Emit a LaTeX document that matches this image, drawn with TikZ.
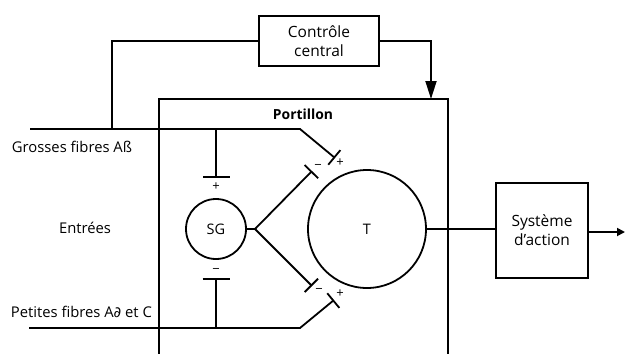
\documentclass[tikz,border=0pt]{standalone}
\usepackage{fontspec}
\setmainfont{Open Sans}
\newfontfamily\dejavu{DejaVu Sans}
\usetikzlibrary{arrows.meta}
\begin{document}
\begin{tikzpicture}[x=1pt,y=-1pt,line width=1.8pt,
  boxnode/.style={draw,line width=1.8pt,inner sep=0pt,align=center,font=\fontsize{15.5}{19}\selectfont},
  cellnode/.style={draw,circle,line width=1.8pt,inner sep=0pt,font=\fontsize{14.5}{17}\selectfont},
  lbl/.style={inner sep=0pt,font=\fontsize{14.8}{17}\selectfont},
  sign/.style={inner sep=0pt,font=\fontsize{13}{15}\selectfont},
  inhib/.style={-{Bar[width=#1]}},
  bigarrow/.style={-{Triangle[length=18pt,width=11pt]}},
  smallarrow/.style={-{Triangle[length=8pt,width=8pt]}}]
\useasboundingbox (0,0) rectangle (625,354);
% nodes
\node[boxnode,minimum width=120pt,minimum height=50pt] (ctrl) at (319,41) {Contrôle\\central};
\node[boxnode,minimum width=92pt,minimum height=95pt] (sys) at (542,230.5) {Système\\d’action};
\node[cellnode,minimum size=60pt] (SG) at (216,229) {SG};
\node[cellnode,minimum size=118pt] (T) at (367,229) {T};
\node[inner sep=0pt,font=\bfseries\fontsize{13.9}{16}\selectfont] (port) at (303,114) {Portillon};
\node[lbl,anchor=west] (gros) at (11,147) {Grosses fibres Aß};
\node[lbl] (entr) at (85,228) {Entrées};
\node[lbl,anchor=west] (pet) at (10,312) {Petites fibres A{\dejavu ∂} et C};
% signs
\node[sign] (s1) at (216,187) {+};
\node[sign] (s2) at (216,271) {−};
\node[sign] (s3) at (318,167) {−};
\node[sign] (s4) at (340,163) {+};
\node[sign] (s5) at (319,291) {−};
\node[sign] (s6) at (340,294) {+};
% coordinates
\coordinate (gL) at (30,129);
\coordinate (gB) at (300,129);
\coordinate (jC) at (112,129);
\coordinate (jS) at (216,129);
\coordinate (synGp) at (335,158);
\coordinate (barU) at (216,178);
\coordinate (pL) at (29,328);
\coordinate (pB) at (300,328);
\coordinate (jP) at (216,328);
\coordinate (synPp) at (334,300);
\coordinate (barL) at (216,278);
\coordinate (sgJ) at (255,229);
\coordinate (synUm) at (312,171);
\coordinate (synLm) at (312,286);
\coordinate (gateTop) at (431,99);
\coordinate (out) at (625,232);
\coordinate (pbl) at (159,354);
\coordinate (ptl) at (159,99);
\coordinate (ptr) at (448,99);
\coordinate (pbr) at (448,354);
% gate box (open at bottom)
\draw (pbl) -- (ptl) -- (ptr) -- (pbr);
% central control
\draw (ctrl.west) -| (jC);
\draw[bigarrow] (ctrl.east) -| (gateTop);
% large fibres
\draw[inhib=19pt] (gL) -- (gB) -- (synGp);
\draw[inhib=27pt] (jS) -- (barU);
% small fibres
\draw[inhib=19pt] (pL) -- (pB) -- (synPp);
\draw[inhib=27pt] (jP) -- (barL);
% SG outputs
\draw (SG.east) -- (sgJ);
\draw[inhib=19pt] (sgJ) -- (synUm);
\draw[inhib=19pt] (sgJ) -- (synLm);
% T output
\draw (T.east) -- (T.east -| sys.west);
\draw[smallarrow] (sys.east |- out) -- (out);
\end{tikzpicture}
\end{document}
